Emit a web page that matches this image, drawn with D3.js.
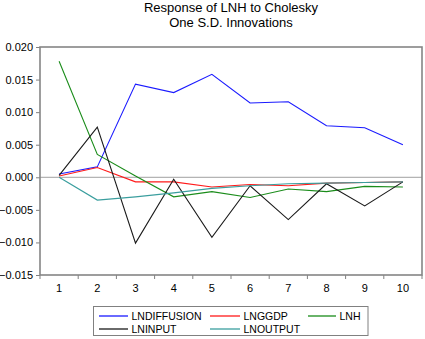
<!DOCTYPE html>
<html>
<head>
<meta charset="utf-8">
<script src="https://cdn.jsdelivr.net/npm/d3@7"></script>
<style>
  html, body { margin: 0; padding: 0; background: #fff; }
  svg { display: block; font-family: "Liberation Sans", Arial, sans-serif; }
</style>
</head>
<body>
<svg id="chart" width="425" height="339"></svg>
<script>
const periods = [1, 2, 3, 4, 5, 6, 7, 8, 9, 10];
const lnDiffusion = [0.0005, 0.0016, 0.0143, 0.0130, 0.0158, 0.0114, 0.0116, 0.0079, 0.0076, 0.0050];
const lnGgdp      = [0.0002, 0.0015, -0.0007, -0.0007, -0.0015, -0.0011, -0.0013, -0.0009, -0.0008, -0.0007];
const lnH         = [0.0178, 0.0035, 0.0002, -0.0030, -0.0022, -0.0031, -0.0018, -0.0022, -0.0014, -0.0015];
const lnInput     = [0.0003, 0.0077, -0.0101, -0.0003, -0.0092, -0.0013, -0.0065, -0.0010, -0.0044, -0.0007];
const lnOutput    = [0.0000, -0.0035, -0.0030, -0.0024, -0.0017, -0.0013, -0.0010, -0.0009, -0.0008, -0.0007];
const yTicks = [0.020, 0.015, 0.010, 0.005, 0.000, -0.005, -0.010, -0.015];
const seriesNames = ["LNDIFFUSION", "LNGGDP", "LNH", "LNINPUT", "LNOUTPUT"];
const seriesColors = ["#1a1aff", "#ff1a1a", "#1a8c1a", "#1a1a1a", "#3a9e9e"];
const titleLines = ["Response of LNH to Cholesky", "One S.D. Innovations"];

const seriesValues = [lnDiffusion, lnGgdp, lnH, lnInput, lnOutput];
const series = seriesNames.map((name, i) => ({ name, color: seriesColors[i], values: seriesValues[i] }));

const svg = d3.select("#chart");
const L = 40, R = 422, T = 47, B = 275;

const x = d3.scaleBand().domain(periods).range([L, R]);
const y = d3.scaleLinear().domain([-0.015, 0.020]).range([B, T]);

// title
svg.append("g").selectAll("text").data(titleLines).join("text")
  .attr("x", (L + R) / 2).attr("y", (d, i) => 12 + i * 15)
  .attr("text-anchor", "middle").attr("font-size", 13).attr("fill", "#000")
  .text(d => d);

// zero line
svg.append("line")
  .attr("x1", L).attr("x2", R).attr("y1", y(0)).attr("y2", y(0))
  .attr("stroke", "#a0a0a0").attr("stroke-width", 1);

// y axis
const yAxis = d3.axisLeft(y).tickValues(yTicks).tickFormat(d3.format(".3f")).tickSize(4).tickPadding(3);
const gy = svg.append("g").attr("transform", `translate(${L},0)`).call(yAxis);
gy.select(".domain").remove();
gy.selectAll(".tick line").attr("stroke", "#808080");
gy.selectAll(".tick text").attr("font-size", 11).attr("fill", "#000")
  .attr("font-family", "'Liberation Sans', Arial, sans-serif");

// x axis: labels at band centres, tick marks at band edges
const gx = svg.append("g").attr("transform", `translate(0,${B})`);
const edges = periods.map(p => x(p)).concat([x(periods[periods.length - 1]) + x.bandwidth()]);
gx.selectAll("line.edge").data(edges).join("line")
  .attr("class", "edge")
  .attr("x1", d => d).attr("x2", d => d).attr("y1", 0).attr("y2", 4)
  .attr("stroke", "#808080");
gx.selectAll("text").data(periods).join("text")
  .attr("x", d => x(d) + x.bandwidth() / 2).attr("y", 17)
  .attr("text-anchor", "middle").attr("font-size", 11).attr("fill", "#000")
  .text(d => d);

// lines
const line = d3.line()
  .x((d, i) => x(periods[i]) + x.bandwidth() / 2)
  .y(d => y(d));
svg.append("g").selectAll("path").data(series).join("path")
  .attr("d", d => line(d.values))
  .attr("fill", "none").attr("stroke", d => d.color).attr("stroke-width", 1.1);

// frame
svg.append("rect")
  .attr("x", L).attr("y", T).attr("width", R - L).attr("height", B - T)
  .attr("fill", "none").attr("stroke", "#858585").attr("stroke-width", 1.6);

// legend
const lg = svg.append("g");
lg.append("rect").attr("x", 93.5).attr("y", 306.5).attr("width", 274.5).attr("height", 29)
  .attr("fill", "#fff").attr("stroke", "#808080").attr("stroke-width", 1);
const colX = [99, 210, 308];
const swLen = [29, 30, 28];
const rowY = [316, 329];
const items = lg.selectAll("g.item").data(series).join("g").attr("class", "item")
  .attr("transform", (d, i) => `translate(${colX[i % 3]},${rowY[Math.floor(i / 3)]})`);
items.append("line").attr("x1", 0).attr("x2", (d, i) => swLen[i % 3]).attr("y1", 0).attr("y2", 0)
  .attr("stroke", d => d.color).attr("stroke-width", 1.3);
items.append("text").attr("x", (d, i) => swLen[i % 3] + 3.5).attr("y", 4)
  .attr("font-size", 10.5).attr("fill", "#000").text(d => d.name);
</script>
</body>
</html>
